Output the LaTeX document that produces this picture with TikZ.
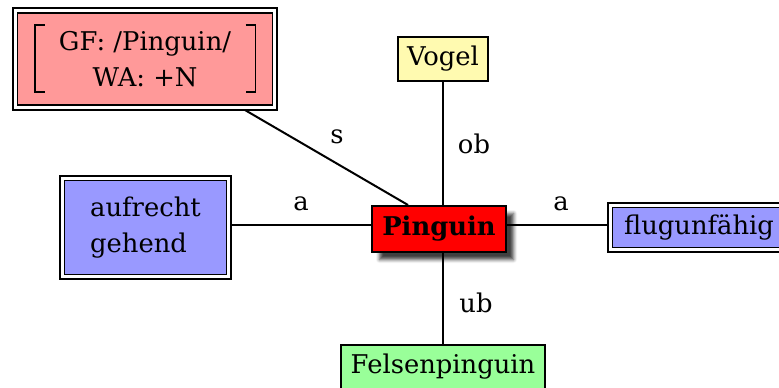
\documentclass[tikz,border=0pt]{standalone}
\usepackage{fontspec}
\setmainfont{DejaVu Serif}
\usetikzlibrary{backgrounds,shadows.blur}
\definecolor{pinkbox}{HTML}{FF9999}
\definecolor{bluebox}{HTML}{9999FF}
\definecolor{yellowbox}{HTML}{FFFAB0}
\definecolor{greenbox}{HTML}{99FF99}
\begin{document}
\begin{tikzpicture}[x=1bp,y=-1bp,font=\fontsize{25.8bp}{36.5bp}\selectfont]
\tikzset{
  base/.style={draw, inner sep=0pt, align=center, line width=2bp},
  dbl/.style={base, double, double distance=3.2bp, line width=1.6bp},
  lbl/.style={inner sep=0pt, anchor=base},
  edge/.style={line width=2bp},
}
\useasboundingbox (0,0) rectangle (779,387);
\node[base, fill=red, minimum width=134bp, minimum height=46bp,
  blur shadow={shadow xshift=7.5bp, shadow yshift=-7.5bp, shadow blur radius=3.5bp, shadow opacity=75}]
  (pinguin) at (439,229) {\textbf{Pinguin}};
\node[base, fill=yellowbox, minimum width=90bp, minimum height=44bp] (vogel) at (443,59) {Vogel};
\node[base, fill=greenbox, minimum width=204bp, minimum height=44bp] (felsen) at (443,367) {Felsenpinguin};
\node[dbl, fill=bluebox, minimum width=177.5bp, minimum height=44.5bp] (flug) at (699,227.5) {flugunfähig};
\node[dbl, fill=bluebox, minimum width=166.5bp, minimum height=98.5bp, align=left] (aufrecht) at (145.5,227.5) {aufrecht\\gehend};
\node[dbl, fill=pinkbox, minimum width=259.5bp, minimum height=97bp] (gf) at (145,59) {GF: /Pinguin/\\WA: +N};
\draw[edge, line width=1.5bp] ([xshift=-110bp,yshift=34bp]gf.center) ++(10,0) -- ++(-10,0) -- ++(0,67) -- ++(10,0);
\draw[edge, line width=1.5bp] ([xshift=110.5bp,yshift=34bp]gf.center) ++(-10,0) -- ++(10,0) -- ++(0,67) -- ++(-10,0);
\begin{scope}[on background layer]
  \draw[edge] (vogel.south) -- (vogel.south |- pinguin.center);
  \draw[edge] (felsen.north) -- (felsen.north |- pinguin.center);
  \draw[edge] ([yshift=2.5bp]aufrecht.east) -- ([yshift=2.5bp]aufrecht.east -| pinguin.center);
  \draw[edge] ([yshift=2.5bp]flug.west) -- ([yshift=2.5bp]flug.west -| pinguin.center);
  \draw[edge] ([xshift=97bp]gf.south) -- ([xshift=-31bp]pinguin.north);
\end{scope}
\node[lbl] (ls) at (337,143) {s};
\node[lbl] (lob) at (474,153) {ob};
\node[lbl] (la1) at (301,210) {a};
\node[lbl] (la2) at (561,210) {a};
\node[lbl] (lub) at (476,312) {ub};
\end{tikzpicture}
\end{document}
